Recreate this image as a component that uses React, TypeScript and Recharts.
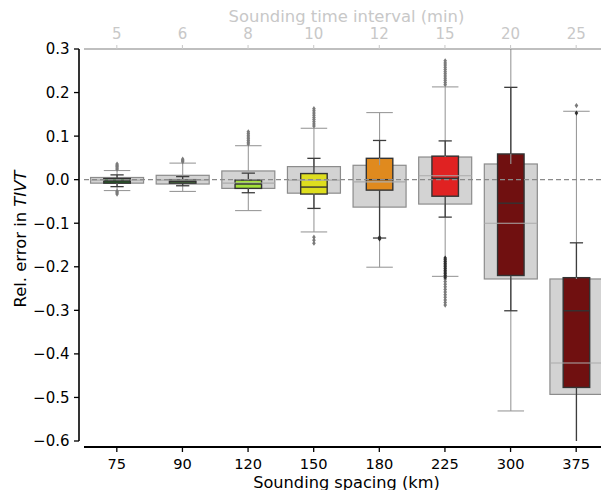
import { ComposedChart, Bar, XAxis, YAxis, ReferenceLine } from "recharts";

// Box statistics per sounding spacing: wide grey box = all soundings,
// narrow coloured box = subsampled network
const spacingKm = ["75", "90", "120", "150", "180", "225", "300", "375"];
const intervalMin = ["5", "6", "8", "10", "12", "15", "20", "25"];

const refLow = [-0.025, -0.027, -0.071, -0.12, -0.201, -0.222, -0.531, -0.66];
const refQ1 = [-0.008, -0.01, -0.02, -0.031, -0.063, -0.056, -0.228, -0.493];
const refMedian = [-0.001, -0.001, -0.008, -0.001, -0.005, 0.009, -0.1, -0.421];
const refQ3 = [0.005, 0.01, 0.02, 0.03, 0.033, 0.052, 0.036, -0.228];
const refHigh = [0.021, 0.038, 0.078, 0.118, 0.154, 0.213, 0.36, 0.157];

const subLow = [-0.016, -0.014, -0.03, -0.066, -0.134, -0.086, -0.301, -0.63];
const subQ1 = [-0.008, -0.008, -0.02, -0.033, -0.024, -0.038, -0.22, -0.477];
const subMedian = [-0.003, -0.004, -0.01, -0.017, 0.0, 0.003, -0.054, -0.301];
const subQ3 = [0.0025, 0.0, -0.001, 0.014, 0.049, 0.054, 0.059, -0.225];
const subHigh = [0.011, 0.007, 0.015, 0.049, 0.09, 0.089, 0.212, -0.145];

const refOutliers = [
  [0.024, 0.027, 0.03, 0.033, 0.036, -0.027, -0.03, -0.033],
  [0.041, 0.044, 0.047],
  [0.082, 0.086, 0.09, 0.094, 0.098, 0.102, 0.106, 0.11],
  [0.123, 0.128, 0.133, 0.138, 0.143, 0.148, 0.153, 0.158, 0.163, -0.132, -0.139, -0.146],
  [],
  [
    0.218, 0.223, 0.228, 0.233, 0.238, 0.243, 0.248, 0.253, 0.258, 0.263, 0.268, 0.273,
    -0.228, -0.234, -0.24, -0.246, -0.252, -0.258, -0.264, -0.27, -0.276, -0.282, -0.288,
  ],
  [],
  [0.17],
];
const subOutliers = [
  [],
  [],
  [],
  [],
  [-0.133, -0.136],
  [-0.18, -0.184, -0.188, -0.192, -0.196, -0.2, -0.204, -0.208, -0.212, -0.216, -0.22, -0.224],
  [],
  [0.153],
];

const boxColors = ["#1d6b1d", "#4f8f3f", "#a3e03a", "#dede1e", "#e08a1e", "#e02222", "#701010", "#701010"];

const yTicks = [-0.6, -0.5, -0.4, -0.3, -0.2, -0.1, 0.0, 0.1, 0.2, 0.3];

const rows = spacingKm.map((km, i) => ({
  km,
  min: intervalMin[i],
  box: [refQ1[i], refQ3[i]],
  i,
}));

const FONT = "DejaVu Sans";

const diamond = (cx: number, cy: number) =>
  `M${cx},${cy - 2.6}L${cx + 1.8},${cy}L${cx},${cy + 2.6}L${cx - 1.8},${cy}Z`;

function BoxShape(props: any) {
  const { x, y, width, height, payload } = props;
  const i = payload.i as number;
  // the bar spans refQ1..refQ3, which gives the pixel scale for everything else
  const top = Math.min(y, y + height);
  const k = Math.abs(height) / (refQ3[i] - refQ1[i]);
  const py = (v: number) => top + (refQ3[i] - v) * k;
  const cx = x + width / 2;
  const wr = width;
  const ws = width / 2;

  const whisker = (lo: number, q1: number, q3: number, hi: number, capW: number, stroke: string, sw: number) => (
    <g stroke={stroke} strokeWidth={sw}>
      <line x1={cx} x2={cx} y1={py(q3)} y2={py(hi)} />
      <line x1={cx} x2={cx} y1={py(q1)} y2={py(lo)} />
      <line x1={cx - capW / 2} x2={cx + capW / 2} y1={py(hi)} y2={py(hi)} />
      <line x1={cx - capW / 2} x2={cx + capW / 2} y1={py(lo)} y2={py(lo)} />
    </g>
  );

  return (
    <g>
      <rect x={cx - wr / 2} y={py(refQ3[i])} width={wr} height={py(refQ1[i]) - py(refQ3[i])} fill="#d3d3d3" stroke="#8c8c8c" strokeWidth={1.2} />
      <rect x={cx - ws / 2} y={py(subQ3[i])} width={ws} height={py(subQ1[i]) - py(subQ3[i])} fill={boxColors[i]} stroke="#333333" strokeWidth={1.4} />
      {whisker(refLow[i], refQ1[i], refQ3[i], refHigh[i], wr / 2, "#9a9a9a", 1.1)}
      <line x1={cx - wr / 2} x2={cx + wr / 2} y1={py(refMedian[i])} y2={py(refMedian[i])} stroke="#ababab" strokeWidth={1.1} />
      {whisker(subLow[i], subQ1[i], subQ3[i], subHigh[i], ws / 2, "#3d3d3d", 1.3)}
      <line x1={cx - ws / 2} x2={cx + ws / 2} y1={py(subMedian[i])} y2={py(subMedian[i])} stroke="#333333" strokeWidth={1.4} />
      {refOutliers[i].map((v, j) => (
        <path key={`r${j}`} d={diamond(cx, py(v))} fill="#7a7a7a" />
      ))}
      {subOutliers[i].map((v, j) => (
        <path key={`s${j}`} d={diamond(cx, py(v))} fill="#2e2e2e" />
      ))}
    </g>
  );
}

const fmt = (v: number) => v.toFixed(1).replace("-", "\u2212");

const LeftTick = ({ x, y, payload }: any) => (
  <text x={x - 9.5} y={y} dy={5.4} textAnchor="end" fontFamily={FONT} fontSize={15} fill="#000">
    {fmt(payload.value)}
  </text>
);

const BottomTick = ({ x, y, payload }: any) => (
  <text x={x} y={y} dy={23} textAnchor="middle" fontFamily={FONT} fontSize={14.6} fill="#000">
    {payload.value}
  </text>
);

const TopTick = ({ x, y, payload }: any) => (
  <text x={x} y={y} dy={-6} textAnchor="middle" fontFamily={FONT} fontSize={15} fill="#c8c8c8">
    {payload.value}
  </text>
);

const YLabel = ({ viewBox }: any) => (
  <text
    transform={`translate(${viewBox.x + 20},${viewBox.y + viewBox.height / 2 - 6}) rotate(-90)`}
    textAnchor="middle"
    dominantBaseline="central"
    fontFamily={FONT}
    fontSize={16.4}
    fill="#000"
  >
    Rel. error in <tspan fontStyle="italic">TIVT</tspan>
  </text>
);

export default function App() {
  return (
    <div style={{ position: "absolute", left: 0, top: 0, width: 601, height: 490, overflow: "hidden", background: "#fff" }}>
      <ComposedChart
        width={610}
        height={490}
        data={rows}
        margin={{ top: 0, right: 1, bottom: 0, left: 0 }}
        barCategoryGap="10%"
      >
        <XAxis
          xAxisId="bottom"
          dataKey="km"
          height={49}
          tickSize={5}
          tickMargin={0}
          tick={BottomTick}
          axisLine={{ stroke: "#000", strokeWidth: 1.8, transform: "translate(0 6)" }}
          tickLine={{ stroke: "#000", strokeWidth: 1.3, transform: "translate(0 6)" }}
          label={{ value: "Sounding spacing (km)", position: "insideBottom", offset: 2.5, fontFamily: FONT, fontSize: 16.2, fill: "#000" }}
        />
        <XAxis
          xAxisId="top"
          dataKey="min"
          orientation="top"
          height={49}
          tickSize={4}
          tickMargin={0}
          tick={TopTick}
          axisLine={{ stroke: "#808080", strokeWidth: 1.1 }}
          tickLine={{ stroke: "#cccccc", strokeWidth: 1.1 }}
          label={{ value: "Sounding time interval (min)", position: "insideTop", offset: 10, fontFamily: FONT, fontSize: 16.4, fill: "#c8c8c8" }}
        />
        <YAxis
          width={84}
          type="number"
          domain={[-0.6, 0.3]}
          ticks={yTicks}
          allowDataOverflow
          tickSize={5}
          tickMargin={0}
          tick={LeftTick}
          axisLine={{ stroke: "#000", strokeWidth: 1.6, transform: "translate(-5 0)" }}
          tickLine={{ stroke: "#000", strokeWidth: 1.3, transform: "translate(-5 0)" }}
          label={{ content: YLabel }}
        />
        <Bar xAxisId="bottom" dataKey="box" shape={BoxShape} isAnimationActive={false} />
        <ReferenceLine xAxisId="bottom" y={0} stroke="#8a8a8a" strokeWidth={1.3} strokeDasharray="5 3" />
      </ComposedChart>
    </div>
  );
}
